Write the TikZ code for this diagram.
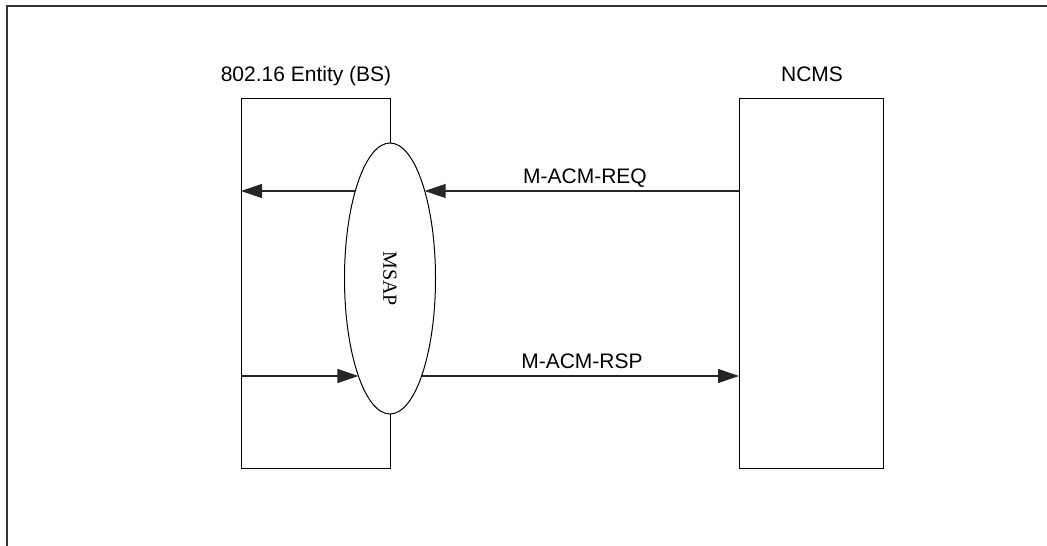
\documentclass[tikz,border=0pt]{standalone}
\usepackage{fontspec}
\setmainfont{Liberation Sans}
\newfontfamily\msapfont{Liberation Serif}
\usetikzlibrary{shapes.geometric,arrows.meta}
\begin{document}
\begin{tikzpicture}[x=1pt,y=-1pt,
  entity/.style={draw,line width=1pt,inner sep=0pt,anchor=north west},
  msg/.style={line width=1.2pt,draw=black!85,-{Triangle[length=21pt,width=14pt]}},
  lbl/.style={font=\fontsize{21}{25}\selectfont,inner sep=0pt}]
\useasboundingbox (0,0) rectangle (1047,546);
\draw[line width=1.6pt,black!80] (7,546) -- (7,6) -- (1047,6);
\node[entity,minimum width=149pt,minimum height=370pt] (bs) at (241,98) {};
\node[entity,minimum width=144pt,minimum height=370pt] (ncms) at (739,98) {};
\node[draw,ellipse,fill=white,line width=1pt,minimum width=91pt,minimum height=271pt,inner sep=0pt] (msap) at (390,278.5) {};
\node[rotate=-90,inner sep=0pt,font=\msapfont\fontsize{20}{24}\selectfont] (msaplbl) at (msap.center) {MSAP};
\node[lbl] (bslbl) at (306,76) {802.16 Entity (BS)};
\node[lbl] (ncmslbl) at (812,74) {NCMS};
\coordinate (reqL) at (355.3,191);
\coordinate (reqR) at (424.7,191);
\coordinate (rspL) at (358.4,376);
\coordinate (rspR) at (421.6,376);
\draw[msg] (reqL) -- (bs.west |- reqL);
\draw[msg] (ncms.west |- reqR) -- (reqR);
\draw[msg] (bs.west |- rspL) -- (rspL);
\draw[msg] (rspR) -- (ncms.west |- rspR);
\node[lbl] (reqlbl) at (585,178) {M-ACM-REQ};
\node[lbl] (rsplbl) at (582,361) {M-ACM-RSP};
\end{tikzpicture}
\end{document}
